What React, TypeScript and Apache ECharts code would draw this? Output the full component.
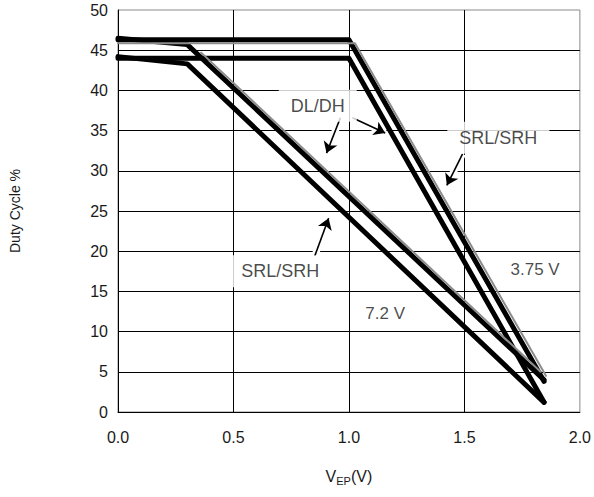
import React, { useEffect, useRef } from "react";
import * as echarts from "echarts";

// Duty cycle (%) versus error-amplifier voltage V_EP (V)
const xTicks = [0, 0.5, 1.0, 1.5, 2.0];
const yTicks = [0, 5, 10, 15, 20, 25, 30, 35, 40, 45, 50];

// 3.75 V supply: DL/DH and SRL/SRH drive outputs
const dl375: [number, number][] = [[0, 46.3], [1.0, 46.3], [1.845, 3.8]];
const dl375Trace: [number, number][] = [[0, 45.87], [1.026, 45.87], [1.853, 4.5]];
const sr375: [number, number][] = [[0, 44.0], [1.0, 44.0], [1.845, 1.2]];

// 7.2 V supply
const dl72: [number, number][] = [[0, 46.5], [0.3, 45.7], [1.845, 4.0]];
const dl72Trace: [number, number][] = [[0.36, 44.7], [1.83, 5.0]];
const sr72: [number, number][] = [[0, 44.2], [0.3, 43.3], [1.845, 1.2]];

// Callout texts and their anchor points [V, %]
const boxedNotes: [number, number, string][] = [
  [0.865, 38.1, "DL/DH"],
  [1.647, 34.1, "SRL/SRH"],
  [0.703, 17.5, "SRL/SRH"],
];
const plainNotes: [number, number, string][] = [
  [1.806, 17.7, "3.75 V"],
  [1.157, 12.3, "7.2 V"],
];

// Pointer arrows: from -> to
const arrows: [number, number, number, number][] = [
  [0.963, 36.6, 0.903, 32.2],
  [1.015, 36.6, 1.157, 34.7],
  [1.492, 32.1, 1.424, 28.2],
  [0.852, 19.4, 0.912, 24.1],
];

const FONT = "Liberation Sans, Arial, Helvetica, sans-serif";

function curve(name: string, data: [number, number][], color: string, width: number) {
  return {
    name,
    type: "line",
    data,
    symbol: "none",
    silent: true,
    lineStyle: { color, width, cap: "round", join: "round" },
  };
}

function notes(name: string, items: [number, number, string][], boxed: boolean) {
  return {
    name,
    type: "scatter",
    silent: true,
    symbolSize: 1,
    itemStyle: { color: "transparent" },
    data: items.map(([x, y, t]) => ({ value: [x, y], name: t })),
    label: {
      show: true,
      position: "inside",
      formatter: (p: any) => p.name,
      fontFamily: FONT,
      fontSize: boxed ? 18 : 17,
      color: "#1a1a1a",
      ...(boxed ? { backgroundColor: "#fff", padding: [7, 12, 7, 12] } : {}),
    },
  };
}

export default function App() {
  const ref = useRef<HTMLDivElement>(null);

  useEffect(() => {
    if (!ref.current) return;
    const chart = echarts.init(ref.current, undefined, { renderer: "svg" });

    const arrowData = arrows.map(([x1, y1, x2, y2]) => ({ coords: [[x1, y1], [x2, y2]] }));

    chart.setOption({
      animation: false,
      grid: {
        left: 116,
        right: 13,
        top: 10,
        bottom: 85,
        show: true,
        borderColor: "#8a8a8a",
        borderWidth: 1,
        backgroundColor: "transparent",
      },
      xAxis: {
        type: "value",
        min: xTicks[0],
        max: xTicks[xTicks.length - 1],
        interval: 0.5,
        name: "{a|V}{b|EP}{a|(V)}",
        nameLocation: "middle",
        nameGap: 54,
        nameTextStyle: {
          rich: {
            a: { fontFamily: FONT, fontSize: 16, color: "#1a1a1a", lineHeight: 20, verticalAlign: "middle" },
            b: { fontFamily: FONT, fontSize: 11, color: "#1a1a1a", lineHeight: 10, verticalAlign: "bottom" },
          },
        },
        axisLine: { show: true, lineStyle: { color: "#000", width: 1 } },
        axisTick: { show: false },
        axisLabel: {
          margin: 17,
          fontFamily: FONT,
          fontSize: 16,
          color: "#1a1a1a",
          formatter: (v: number) => v.toFixed(1),
        },
        splitLine: {
          show: true,
          showMinLine: false,
          showMaxLine: false,
          lineStyle: { color: "#000", width: 1 },
        },
      },
      yAxis: {
        type: "value",
        min: yTicks[0],
        max: yTicks[yTicks.length - 1],
        interval: 5,
        name: "Duty Cycle %",
        nameLocation: "middle",
        nameGap: 96,
        nameTextStyle: { fontFamily: FONT, fontSize: 14, color: "#1a1a1a" },
        axisLine: { show: true, lineStyle: { color: "#000", width: 1 } },
        axisTick: { show: false },
        axisLabel: { margin: 10, fontFamily: FONT, fontSize: 16, color: "#1a1a1a" },
        splitLine: {
          show: true,
          showMinLine: false,
          showMaxLine: false,
          lineStyle: { color: "#000", width: 1 },
        },
      },
      series: [
        {
          name: "arrow-halo",
          type: "lines",
          coordinateSystem: "cartesian2d",
          silent: true,
          symbol: "none",
          lineStyle: { color: "#fff", width: 7, opacity: 1, curveness: 0 },
          data: arrowData,
        },
        curve("DL/DH 3.75 V", dl375, "#000", 5),
        curve("SRL/SRH 3.75 V", sr375, "#000", 5),
        curve("DL/DH 7.2 V", dl72, "#000", 5),
        curve("SRL/SRH 7.2 V", sr72, "#000", 5),
        curve("DL/DH 3.75 V trace", dl375Trace, "#8c8c8c", 2),
        curve("DL/DH 7.2 V trace", dl72Trace, "#8c8c8c", 2),
        notes("boxed notes", boxedNotes, true),
        notes("plain notes", plainNotes, false),
        {
          name: "arrows",
          type: "lines",
          coordinateSystem: "cartesian2d",
          silent: true,
          symbol: ["none", "arrow"],
          symbolSize: 11,
          lineStyle: { color: "#000", width: 1.6, opacity: 1, curveness: 0 },
          itemStyle: { color: "#000" },
          data: arrowData,
        },
      ],
    });

    return () => chart.dispose();
  }, []);

  return (
    <div
      ref={ref}
      style={{ position: "absolute", left: 0, top: 0, width: 594, height: 497, background: "#fff" }}
    />
  );
}
